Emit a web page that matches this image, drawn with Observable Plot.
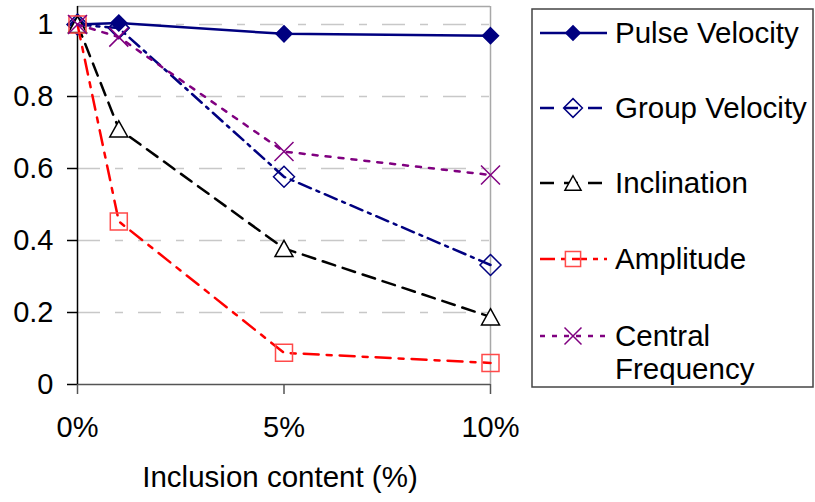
<!DOCTYPE html>
<html><head><meta charset="utf-8">
<script src="https://cdn.jsdelivr.net/npm/d3@7"></script>
<script src="https://cdn.jsdelivr.net/npm/@observablehq/plot@0.6"></script>
<style>
body{margin:0;background:#fff;}
#wrap{position:relative;width:815px;height:502px;font-family:"Liberation Sans",Arial,sans-serif;}
#wrap svg{position:absolute;left:0;top:0;}
</style>
</head><body><div id="wrap"></div>
<script>
// ---- data ----
const inclusion = [0, 1, 5, 10];
const seriesNames = ["Pulse Velocity", "Group Velocity", "Inclination", "Amplitude", "Central Frequency"];
const pulseVelocity    = [1, 1.004, 0.974, 0.969];
const groupVelocity    = [1, 0.99, 0.577, 0.332];
const inclination      = [1, 0.71, 0.378, 0.188];
const amplitude        = [1, 0.453, 0.088, 0.06];
const centralFrequency = [1, 0.965, 0.647, 0.582];
const xTicks = [0, 5, 10];
const yTicks = [0, 0.2, 0.4, 0.6, 0.8, 1];
const xLabel = "Inclusion content (%)";

// ---- symbols (r = half width) ----
const sym = (f) => ({draw(ctx, size) { f(ctx, Math.sqrt(size / Math.PI)); }});
const diamondSym = sym((c, r) => { c.moveTo(0, -r); c.lineTo(r, 0); c.lineTo(0, r); c.lineTo(-r, 0); c.closePath(); });
const squareSym = sym((c, r) => { c.moveTo(-r, -r); c.lineTo(r, -r); c.lineTo(r, r); c.lineTo(-r, r); c.closePath(); });
const triangleSym = sym((c, r) => { const h = r * 0.9; c.moveTo(0, -h); c.lineTo(r, h); c.lineTo(-r, h); c.closePath(); });
const timesSym = sym((c, r) => { c.moveTo(-r, -r); c.lineTo(r, r); c.moveTo(-r, r); c.lineTo(r, -r); });

const seriesValues = [pulseVelocity, groupVelocity, inclination, amplitude, centralFrequency];
const styles = [
  {color: "#000080", dash: null, symbol: diamondSym, r: 8, fill: "#000080", mstroke: "#000080", sw: 2.5, ldash: null},
  {color: "#000080", dash: "13,6,3,6", symbol: diamondSym, r: 10.5, fill: "none", mstroke: "#000080", sw: 2.5, ldash: "14,10"},
  {color: "#000000", dash: "13,8", symbol: triangleSym, r: 9, fill: "white", mstroke: "#000000", sw: 2.5, ldash: "14,10"},
  {color: "#ff0000", dash: "15,8,5,8", symbol: squareSym, r: 8.5, fill: "none", mstroke: "#ff4a4a", sw: 2.5, ldash: "15,6,5,6"},
  {color: "#800080", dash: "5,8", symbol: timesSym, r: 9.5, fill: "none", mstroke: "#800080", sw: 2.5, ldash: "5,7"}
];

const marks = [
  Plot.gridY(yTicks.filter(d => d > 0), {stroke: "#c8c8c8", strokeOpacity: 1, strokeWidth: 1.5, strokeDasharray: "23,15,8,15"}),
  Plot.ruleY([1.05], {stroke: "#a8a8a8", strokeWidth: 1.5}),
  Plot.ruleX([10], {stroke: "#a8a8a8", strokeWidth: 1.5}),
  Plot.ruleY([0], {stroke: "#555", strokeWidth: 1.5}),
  Plot.ruleX([0], {stroke: "#000", strokeWidth: 1.5}),
  Plot.axisY({ticks: yTicks, tickSize: 10, tickPadding: 14, tickFormat: d => String(d), label: null, fontSize: 29, strokeWidth: 1.5}),
  Plot.axisX({ticks: xTicks, tickSize: 10, tickPadding: 22, tickFormat: d => d + "%", label: null, fontSize: 29, stroke: "#555", strokeWidth: 1.5}),
  Plot.text([xLabel], {text: d => d, frameAnchor: "bottom", dy: 102, dx: -4, fontSize: 29.5, fill: "#000"})
];
seriesValues.forEach((vals, i) => {
  const s = styles[i];
  const rows = inclusion.map((x, j) => ({x, y: vals[j], series: seriesNames[i]}));
  marks.push(Plot.line(rows, {x: "x", y: "y", stroke: s.color, strokeWidth: s.sw, strokeDasharray: s.dash}));
  marks.push(Plot.dot(rows, {x: "x", y: "y", symbol: s.symbol, r: s.r, fill: s.fill, stroke: s.mstroke, strokeWidth: 1.5}));
});

const chart = Plot.plot({
  width: 815, height: 502,
  marginLeft: 77, marginRight: 325, marginTop: 6, marginBottom: 118,
  x: {domain: [0, 10]},
  y: {domain: [0, 1.05]},
  style: {fontFamily: "Liberation Sans, Arial, sans-serif", background: "transparent", color: "#000", overflow: "visible"},
  marks
});
document.getElementById("wrap").appendChild(chart);

// ---- legend ----
const legend = d3.select("#wrap").append("svg").attr("width", 815).attr("height", 502)
  .style("font-family", "Liberation Sans, Arial, sans-serif");
legend.append("rect").attr("x", 532).attr("y", 9).attr("width", 281).attr("height", 378)
  .attr("fill", "white").attr("stroke", "#444").attr("stroke-width", 1.5);
const rowY = [33, 108, 183, 259, 336];
seriesNames.forEach((name, i) => {
  const s = styles[i];
  const g = legend.append("g").attr("transform", `translate(0,${rowY[i]})`);
  g.append("line").attr("x1", 540).attr("x2", 607).attr("y1", 0).attr("y2", 0)
    .attr("stroke", s.color).attr("stroke-width", s.sw).attr("stroke-dasharray", s.ldash);
  g.append("path").attr("transform", "translate(573,0)")
    .attr("d", d3.symbol().type(s.symbol).size(Math.PI * s.r * s.r * 0.8)())
    .attr("fill", s.fill).attr("stroke", s.mstroke).attr("stroke-width", 1.5);
  const words = name === "Central Frequency" ? ["Central", "Frequency"] : [name];
  const t = g.append("text").attr("x", 615).attr("y", 0).attr("font-size", 29.5).attr("fill", "#000");
  words.forEach((w, k) => t.append("tspan").attr("x", 615).attr("dy", k === 0 ? "0.35em" : "1.12em").text(w));
});
</script>
</body></html>
